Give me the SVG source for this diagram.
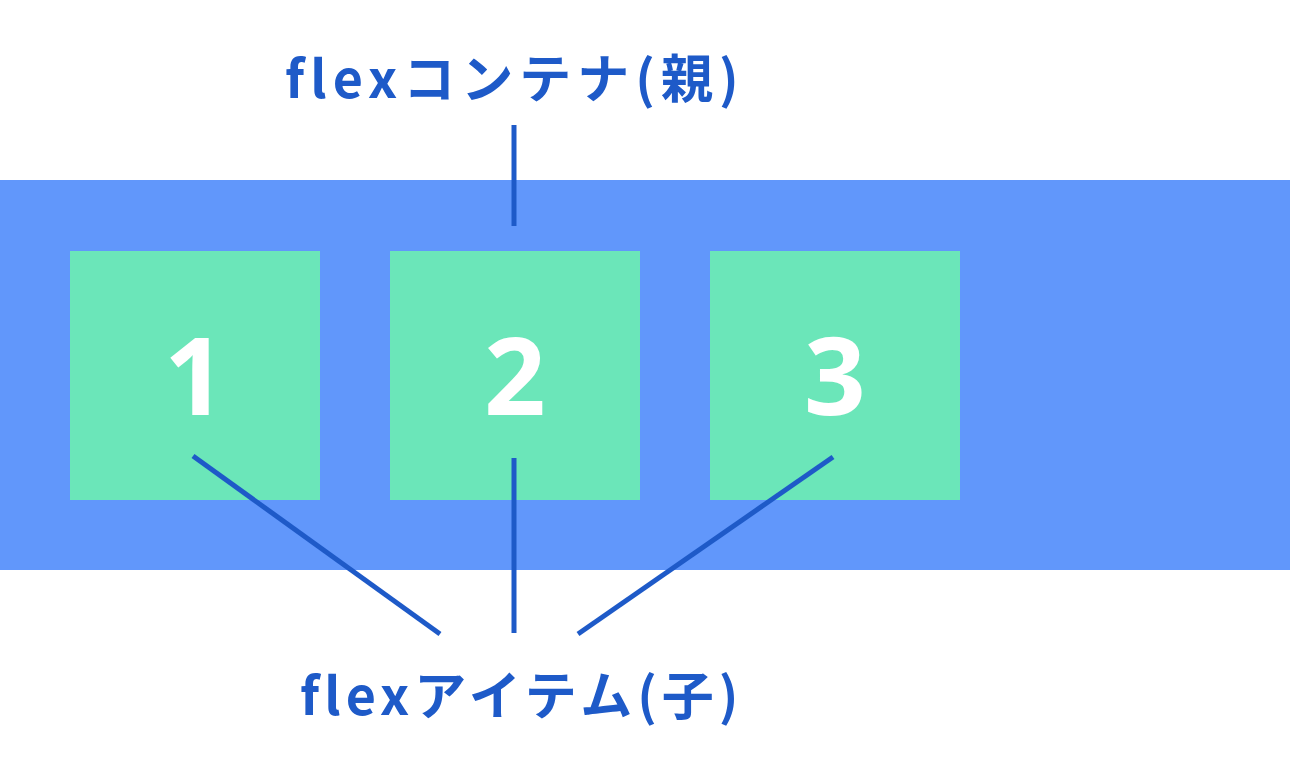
<svg xmlns="http://www.w3.org/2000/svg" width="1290" height="765" viewBox="0 0 1290 765">
<style>
.lbl{font-family:"Noto Sans CJK JP","Noto Sans",sans-serif;font-weight:700;font-size:52px;fill:#1e5ac8;letter-spacing:6px}
.num{font-family:"Open Sans","Noto Sans",sans-serif;font-weight:700;font-size:108px;fill:#ffffff;text-anchor:middle}
.box{fill:#6be6b9}
.ln{stroke:#1e5ac8;stroke-width:5;fill:none}
</style>
<rect width="1290" height="765" fill="#ffffff"/>
<g id="container">
<rect x="0" y="180" width="1290" height="390" fill="#6197fb"/>
</g>
<g id="item1"><rect class="box" x="70" y="251" width="250" height="249"/><text class="num" x="195" y="415">1</text></g>
<g id="item2"><rect class="box" x="390" y="251" width="250" height="249"/><text class="num" x="515" y="415">2</text></g>
<g id="item3"><rect class="box" x="710" y="251" width="250" height="249"/><text class="num" x="835" y="415">3</text></g>
<g id="label-parent"><text class="lbl" x="285" y="98">flexコンテナ(親)</text></g>
<g id="label-child"><text class="lbl" x="300" y="715" style="letter-spacing:5px">flexアイテム(子)</text></g>
<g id="connectors">
<line class="ln" x1="514" y1="125" x2="514" y2="226"/>
<line class="ln" x1="193" y1="456" x2="440" y2="634"/>
<line class="ln" x1="514" y1="458" x2="514" y2="633"/>
<line class="ln" x1="833" y1="457" x2="578" y2="634"/>
</g>
</svg>
